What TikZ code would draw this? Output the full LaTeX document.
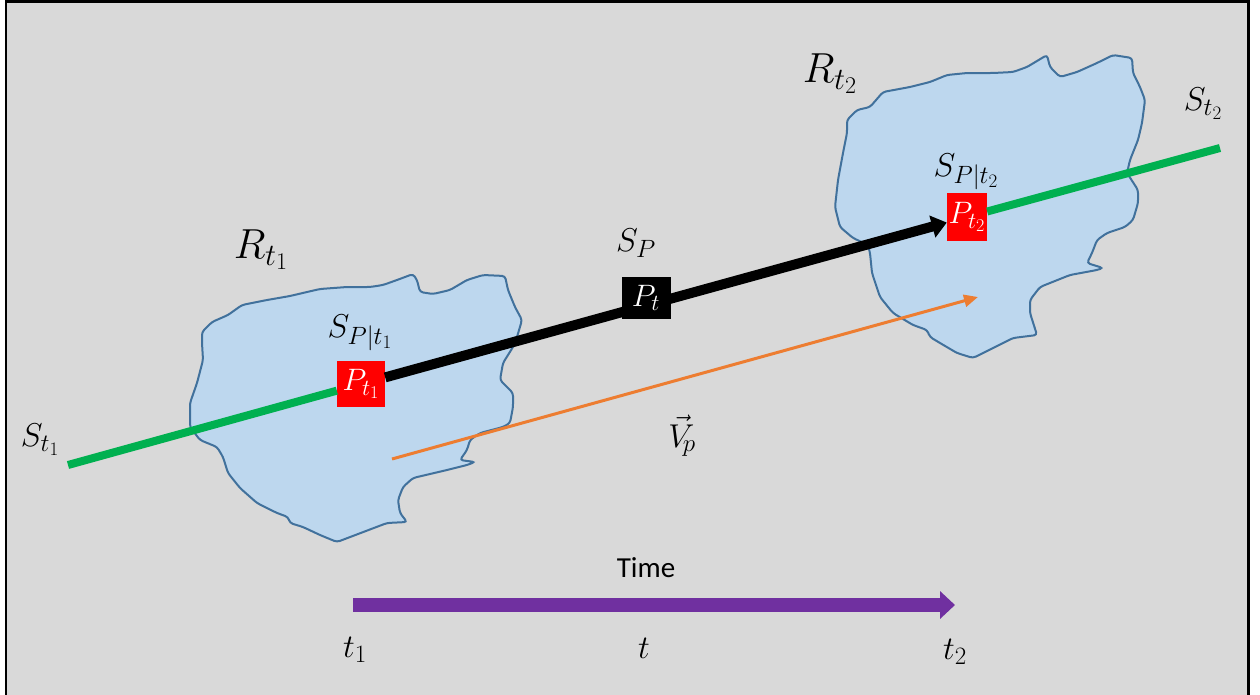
\RequirePackage{fix-cm}
\documentclass[tikz,border=0pt]{standalone}
\usepackage{fontspec}
\setsansfont{Carlito}
\usetikzlibrary{arrows.meta}
\DeclareMathSizes{42}{42}{31}{24}
\DeclareMathSizes{33}{33}{25}{19}
\DeclareMathSizes{31}{31}{23}{18}
\definecolor{bggray}{HTML}{D9D9D9}
\definecolor{blobfill}{HTML}{BDD7EE}
\definecolor{blobline}{HTML}{41719C}
\definecolor{pgreen}{HTML}{00B050}
\definecolor{porange}{HTML}{ED7D31}
\definecolor{ppurple}{HTML}{7030A0}
\tikzset{
  blob/.style={draw=blobline, fill=blobfill, line width=2pt, rounded corners=3pt},
  bigmath/.style={inner sep=0pt, font=\fontsize{42}{48}\selectfont},
  lbl/.style={inner sep=0pt, font=\fontsize{33}{38}\selectfont},
  pbox/.style={fill=red, text=white, minimum width=48pt, minimum height=46pt, inner sep=0pt, font=\fontsize{31}{36}\selectfont},
  tbox/.style={fill=black, text=white, minimum width=49pt, minimum height=42pt, inner sep=0pt, font=\fontsize{31}{36}\selectfont},
  greenline/.style={draw=pgreen, line width=8pt},
  blackarrow/.style={draw=black, line width=10pt, -{Triangle[length=15pt,width=22pt]}},
  orangearrow/.style={draw=porange, line width=3pt, -{Triangle[length=14pt,width=12pt]}},
  purplearrow/.style={draw=ppurple, line width=14pt, -{Triangle[length=15pt,width=27pt]}},
  timelbl/.style={inner sep=0pt, font=\sffamily\fontsize{29}{34}\selectfont},
}
\begin{document}
\begin{tikzpicture}[x=1pt, y=-1pt]
\useasboundingbox (0,0) rectangle (1260,694);
\fill[white] (0,0) rectangle (1260,694);
\draw[fill=bggray, line width=2.5pt] (6,700) -- (6,1.5) -- (1248.5,1.5) -- (1248.5,700);
% regions
\draw[blob] (202,332) -- (212,322) -- (228,315) -- (242,305) -- (267,300) -- (290,296) -- (307,292) -- (320,289) -- (347,287) -- (370,287) -- (383,285) -- (397,280) -- (413,274) -- (417,280) -- (420,292) -- (433,294) -- (450,290) -- (467,280) -- (483,275) -- (505,276) -- (508,290) -- (515,307) -- (522,320) -- (517,337) -- (513,347) -- (503,363) -- (500,380) -- (513,393) -- (513,407) -- (510,423) -- (503,427) -- (480,433) -- (470,440) -- (467,450) -- (460,460) -- (475,462) -- (467,465) -- (447,470) -- (413,478) -- (403,487) -- (398,500) -- (400,513) -- (407,522) -- (387,523) -- (337,542) -- (320,535) -- (303,527) -- (290,523) -- (288,517) -- (277,513) -- (257,503) -- (240,488) -- (228,473) -- (223,457) -- (217,447) -- (200,440) -- (190,427) -- (190,403) -- (197,383) -- (203,360) -- (202,343) -- cycle;
\draw[blob] (847,120) -- (857,110) -- (870,107) -- (883,92) -- (910,87) -- (930,82) -- (947,75) -- (967,73) -- (993,73) -- (1013,72) -- (1027,67) -- (1047,55) -- (1050,67) -- (1060,77) -- (1077,72) -- (1097,63) -- (1113,55) -- (1132,58) -- (1133,73) -- (1140,87) -- (1145,100) -- (1142,123) -- (1138,140) -- (1130,160) -- (1127,173) -- (1138,190) -- (1138,203) -- (1133,220) -- (1125,227) -- (1107,233) -- (1097,240) -- (1092,253) -- (1087,263) -- (1103,268) -- (1097,270) -- (1070,275) -- (1040,287) -- (1030,300) -- (1030,313) -- (1037,335) -- (1013,338) -- (973,358) -- (957,353) -- (940,343) -- (930,337) -- (927,330) -- (913,325) -- (893,313) -- (880,297) -- (872,273) -- (870,253) -- (868,245) -- (853,238) -- (840,227) -- (835,207) -- (838,180) -- (843,153) -- (847,133) -- cycle;
% coordinates
\coordinate (s1) at (68,465);
\coordinate (s2) at (1220,148);
\coordinate (v1) at (392,459);
\coordinate (v2) at (978,297);
\coordinate (ta) at (353,605);
\coordinate (tb) at (955,605);
% nodes
\node[pbox] (p1) at (361,384) {$P_{t_1}$};
\node[pbox, minimum width=40pt, minimum height=48pt] (p2) at (967,217) {$P_{t_2}$};
% lines
\draw[greenline] (s1) -- (p1);
\draw[greenline] (p2) -- (s2);
\draw[blackarrow] (p1) -- (p2);
\node[tbox] (pt) at (646,298) {$P_t$};
\draw[orangearrow] (v1) -- (v2);
\draw[purplearrow] (ta) -- (tb);
% labels
\node[bigmath] (rt1) at (261,250) {$R_{t_1}$};
\node[bigmath] (rt2) at (830,74) {$R_{t_2}$};
\node[lbl] (spt1) at (360,333) {$S_{P|t_1}$};
\node[lbl] (spt2) at (966,172) {$S_{P|t_2}$};
\node[lbl] (sp) at (636,243) {$S_P$};
\node[lbl] (st1) at (40,440) {$S_{t_1}$};
\node[lbl] (st2) at (1203,104) {$S_{t_2}$};
\node[lbl] (vp) at (682,436) {$\vec{V}_{\!p}$};
\node[timelbl] (time) at (646,568) {Time};
\node[lbl] (t1) at (355,650) {$t_1$};
\node[lbl] (t) at (644,648) {$t$};
\node[lbl] (t2) at (955,652) {$t_2$};
\end{tikzpicture}
\end{document}
